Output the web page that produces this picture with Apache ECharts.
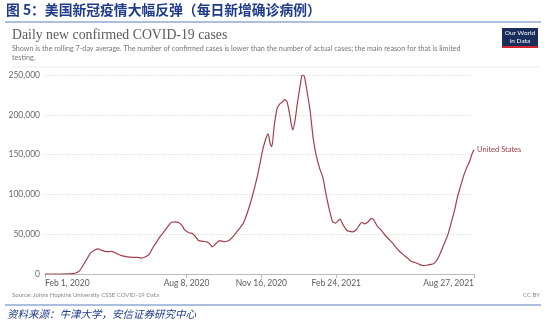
<!DOCTYPE html>
<html><head><meta charset="utf-8">
<script src="https://cdn.jsdelivr.net/npm/echarts@6/dist/echarts.min.js"></script>
<style>html,body{margin:0;padding:0;background:#fff}#c{width:550px;height:326px}</style>
</head><body><div id="c"></div>
<script>
const dates = [
"2020-02-01","2020-02-20","2020-03-05","2020-03-12","2020-03-18","2020-03-23","2020-03-28","2020-04-02","2020-04-08","2020-04-12",
"2020-04-16","2020-04-21","2020-04-25","2020-04-30","2020-05-05","2020-05-13","2020-05-21","2020-05-28","2020-06-03","2020-06-08",
"2020-06-15","2020-06-20","2020-06-24","2020-06-29","2020-07-03","2020-07-08","2020-07-12","2020-07-16","2020-07-19","2020-07-24",
"2020-07-29","2020-08-02","2020-08-05","2020-08-09","2020-08-12","2020-08-16","2020-08-20","2020-08-24","2020-08-30","2020-09-05",
"2020-09-09","2020-09-11","2020-09-15","2020-09-21","2020-09-28","2020-10-05","2020-10-10","2020-10-16","2020-10-23","2020-10-30",
"2020-11-04","2020-11-10","2020-11-14","2020-11-18","2020-11-22","2020-11-25","2020-11-28","2020-11-30","2020-12-03","2020-12-07",
"2020-12-11","2020-12-14","2020-12-17","2020-12-20","2020-12-23","2020-12-26","2020-12-28","2020-12-31","2021-01-03","2021-01-06",
"2021-01-09","2021-01-11","2021-01-13","2021-01-15","2021-01-20","2021-01-24","2021-01-28","2021-02-02","2021-02-06","2021-02-10",
"2021-02-14","2021-02-19","2021-02-23","2021-03-01","2021-03-05","2021-03-10","2021-03-14","2021-03-18","2021-03-22","2021-03-26",
"2021-03-30","2021-04-03","2021-04-08","2021-04-12","2021-04-15","2021-04-20","2021-04-25","2021-04-30","2021-05-05","2021-05-10",
"2021-05-15","2021-05-20","2021-05-25","2021-05-30","2021-06-04","2021-06-09","2021-06-14","2021-06-20","2021-06-25","2021-06-30",
"2021-07-04","2021-07-08","2021-07-12","2021-07-16","2021-07-20","2021-07-24","2021-07-28","2021-08-01","2021-08-05","2021-08-09",
"2021-08-13","2021-08-17","2021-08-21","2021-08-24","2021-08-27"
];
const cases = [
0,10,150,900,4000,11000,19000,26500,30500,31500,
30000,28500,28000,28500,26500,23000,21500,21000,21000,20000,
22000,26000,33000,40000,46000,52000,57000,62000,65000,65500,
64500,61000,56000,53000,51500,51000,47000,42000,41000,40000,
37000,34000,37000,42000,40500,43000,48000,55000,64000,82000,
98000,120000,138000,157000,170000,176000,163000,160000,185000,208000,
214000,216000,219000,217000,205000,188000,181000,193000,214000,232000,
249000,250000,246000,235000,206000,172000,150000,132000,122000,102000,
84000,66000,64000,69000,62000,55000,53500,53000,55000,60000,
65000,63000,66000,70000,68000,60000,55000,49000,44000,39000,
33000,28000,24000,20000,16000,14500,12500,10500,11000,12000,
13000,17000,24000,33000,42000,52000,66000,80000,97000,110000,
123000,133000,141000,150000,156000
];
const yTicks = [0,50000,100000,150000,200000,250000];
const xTickDates = ["2020-02-01","2020-08-08","2020-11-16","2021-02-24","2021-08-27"];
const xTickLabels = ["Feb 1, 2020","Aug 8, 2020","Nov 16, 2020","Feb 24, 2021","Aug 27, 2021"];

const ts = d => Date.parse(d+"T00:00:00Z");
const seriesData = dates.map((d,i)=>[ts(d), cases[i]]);
const xTickVals = xTickDates.map(ts);
const labelMap = {};
xTickVals.forEach((v,i)=>labelMap[v]=xTickLabels[i]);

const chart = echarts.init(document.getElementById('c'), null, {renderer:'canvas'});
const blue = '#1f3c8c';
chart.setOption({
  animation:false,
  backgroundColor:'#fff',
  grid:{left:45,right:76,top:75,bottom:52,containLabel:false},
  xAxis:{
    type:'value',
    min:xTickVals[0], max:xTickVals[xTickVals.length-1],
    axisLine:{show:true,lineStyle:{color:'#bbb',width:1}},
    axisTick:{show:true,customValues:xTickVals,length:4,lineStyle:{color:'#bbb'}},
    axisLabel:{customValues:xTickVals,formatter:v=>labelMap[v]||'',
      color:'#5b5b5b',fontFamily:'Lato',fontSize:8.5,margin:5,
      alignMinLabel:'left',alignMaxLabel:'right',hideOverlap:false},
    splitLine:{show:false}
  },
  yAxis:{
    type:'value',min:yTicks[0],max:yTicks[yTicks.length-1],interval:50000,
    axisLine:{show:false},axisTick:{show:false},
    axisLabel:{color:'#6a6a6a',fontFamily:'Lato',fontSize:8.5,margin:5,
      formatter:v=>v.toLocaleString('en-US')},
    splitLine:{show:true,lineStyle:{color:'#ddd',type:[1.5,1.5],width:1}}
  },
  series:[{
    type:'line',data:seriesData,showSymbol:false,smooth:0.2,
    lineStyle:{color:'#a33f4b',width:1.2},
    itemStyle:{color:'#a33f4b'},
    endLabel:{show:true,formatter:'United States',color:'#a33f4b',
      fontFamily:'Lato',fontSize:7.5,distance:3},
    z:3
  }],
  graphic:[
    {type:'text',left:6,top:3,style:{text:'图 5：美国新冠疫情大幅反弹（每日新增确诊病例）',
      fill:blue,font:'bold 13.8px "Noto Sans CJK SC"'}},
    {type:'line',shape:{x1:5,y1:22,x2:541,y2:22},style:{stroke:'#5b7fc0',lineWidth:1}},
    {type:'text',left:12,top:28,style:{text:'Daily new confirmed COVID-19 cases',
      fill:'#5b5b5b',font:'13.8px "Liberation Serif"'}},
    {type:'text',left:12,top:44,style:{text:'Shown is the rolling 7-day average. The number of confirmed cases is lower than the number of actual cases; the main reason for that is limited\ntesting.',
      fill:'#777',font:'7.2px Lato',lineHeight:9}},
    {type:'line',shape:{x1:12,y1:67,x2:540,y2:67},style:{stroke:'#eee',lineWidth:1}},
    {type:'rect',shape:{x:502,y:28,width:36,height:20},style:{fill:'#1a2e5c'}},
    {type:'rect',shape:{x:502,y:46,width:36,height:2},style:{fill:'#d1262d'}},
    {type:'text',x:520,y:29.5,style:{text:'Our World\nin Data',fill:'#fff',
      font:'6.5px Lato',align:'center',lineHeight:7.5}},
    {type:'text',left:12,top:292,style:{text:'Source: Johns Hopkins University CSSE COVID-19 Data',
      fill:'#888',font:'6px Lato'}},
    {type:'text',right:10,top:292,style:{text:'CC BY',fill:'#888',font:'6px Lato'}},
    {type:'line',shape:{x1:5,y1:305,x2:541,y2:305},style:{stroke:'#5b7fc0',lineWidth:1}},
    {type:'text',left:7,top:309,style:{text:'资料来源：牛津大学，安信证券研究中心',
      fill:blue,font:'italic 10.5px "Noto Sans CJK SC"'}}
  ]
});
</script></body></html>
